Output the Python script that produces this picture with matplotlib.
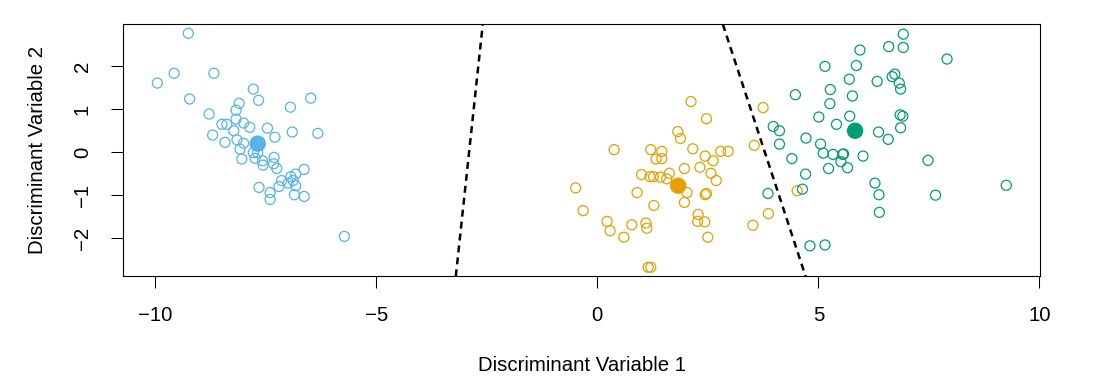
import matplotlib.pyplot as plt
import numpy as np

plt.rcParams['font.family'] = ['Liberation Sans', 'DejaVu Sans']

# class 1 (blue)
blue_x = [-9.25, -9.95, -9.57, -8.67, -9.22, -7.78, -8.10, -7.66, -6.48, -6.94,
          -8.17, -8.78, -8.17, -8.49, -8.38, -8.00, -7.86, -7.46, -8.22, -8.70,
          -6.90, -6.32, -7.29, -8.42, -8.15, -8.00, -8.08, -7.78, -7.68, -7.74,
          -8.04, -7.57, -7.31, -7.56, -7.32, -7.25, -6.63, -6.82, -6.93, -7.14,
          -6.88, -6.99, -7.20, -6.82, -7.65, -7.40, -7.40, -6.85, -6.63, -5.72]
blue_y = [2.77, 1.61, 1.84, 1.84, 1.24, 1.47, 1.14, 1.21, 1.26, 1.05,
          0.98, 0.89, 0.77, 0.65, 0.65, 0.68, 0.58, 0.56, 0.50, 0.40,
          0.47, 0.44, 0.35, 0.23, 0.29, 0.21, 0.07, -0.01, -0.01, -0.14,
          -0.16, -0.20, -0.12, -0.30, -0.27, -0.38, -0.40, -0.51, -0.57, -0.66,
          -0.66, -0.72, -0.80, -0.78, -0.82, -0.94, -1.10, -0.99, -1.03, -1.96]

# class 2 (orange)
orange_x = [2.12, 2.47, 3.75, 1.82, 1.88, 0.38, 1.21, 1.46, 2.16, 2.79,
            2.96, 1.33, 1.46, 2.44, 2.62, 3.55, 1.97, 2.32, 1.00, 1.19,
            1.27, 1.43, 1.63, 1.57, 2.57, 2.69, -0.49, 0.90, 2.03, 2.44,
            2.47, 1.28, 1.97, 3.87, -0.32, 2.28, 0.22, 0.29, 0.78, 1.10,
            1.12, 2.27, 2.43, 0.60, 2.50, 3.52, 1.15, 1.21, 4.52]
orange_y = [1.18, 0.78, 1.04, 0.48, 0.32, 0.06, 0.06, 0.02, 0.08, 0.02,
            0.02, -0.16, -0.15, -0.09, -0.20, 0.16, -0.38, -0.35, -0.52, -0.57,
            -0.57, -0.58, -0.49, -0.62, -0.49, -0.66, -0.83, -0.94, -0.94, -0.99,
            -0.96, -1.24, -1.17, -1.43, -1.36, -1.45, -1.61, -1.83, -1.69, -1.65,
            -1.77, -1.61, -1.62, -1.98, -1.98, -1.70, -2.68, -2.68, -0.90]

# class 3 (green)
green_x = [6.92, 6.59, 6.92, 5.94, 7.91, 5.15, 5.86, 5.70, 6.33, 6.67,
           6.73, 6.83, 6.86, 5.27, 4.48, 5.77, 5.26, 6.85, 6.91, 5.71,
           5.01, 5.41, 6.86, 3.98, 4.12, 6.36, 6.58, 4.72, 4.12, 5.05,
           5.11, 5.33, 5.55, 5.57, 5.51, 5.66, 5.23, 6.01, 4.40, 7.48,
           4.71, 4.64, 6.28, 6.37, 3.86, 7.65, 9.25, 6.38, 4.81, 5.15]
green_y = [2.75, 2.46, 2.44, 2.38, 2.17, 2.00, 2.02, 1.70, 1.65, 1.76,
           1.82, 1.61, 1.47, 1.46, 1.34, 1.31, 1.13, 0.87, 0.84, 0.84,
           0.82, 0.65, 0.57, 0.60, 0.50, 0.47, 0.30, 0.33, 0.19, 0.19,
           -0.02, -0.05, -0.05, -0.04, -0.22, -0.36, -0.38, -0.09, -0.15, -0.19,
           -0.51, -0.86, -0.72, -0.99, -0.96, -1.00, -0.77, -1.40, -2.18, -2.16]

# class means
mean_x = [-7.68, 1.83, 5.83]
mean_y = [0.20, -0.78, 0.50]
colors = ['#56B4E9', '#E69F00', '#009E73']

# decision boundaries, two points each
bound1 = [(-2.59, 2.98), (-3.20, -2.89)]
bound2 = [(2.84, 2.98), (4.65, -2.70)]

fig = plt.figure(figsize=(10.96, 3.88), dpi=100)
ax = fig.add_axes([0.1125, 0.2879, 0.8367, 0.6495])

for xs, ys, c in zip([blue_x, orange_x, green_x], [blue_y, orange_y, green_y], colors):
    ax.scatter(xs, ys, s=52, facecolors='none', edgecolors=c, linewidths=0.9)
ax.scatter(mean_x, mean_y, s=140, c=colors, edgecolors='none', zorder=3)

for b in [bound1, bound2]:
    ax.axline(b[0], b[1], color='black', lw=1.8, dashes=(2.8, 2.0))

ax.set_xlim(-10.72, 10.02)
ax.set_ylim(-2.89, 2.98)
ax.set_xticks([-10, -5, 0, 5, 10])
ax.set_yticks([-2, -1, 0, 1, 2])
ax.tick_params(length=8.6, width=0.75, labelsize=14.7)
ax.tick_params(axis='x', pad=13)
ax.tick_params(axis='y', pad=14, labelrotation=90)
for lab in ax.get_yticklabels():
    lab.set_va('center')
for s in ax.spines.values():
    s.set_linewidth(0.8)

ax.set_xlabel('Discriminant Variable 1', fontsize=14.7, labelpad=22)
ax.set_ylabel('Discriminant Variable 2', fontsize=14.7, labelpad=19)

plt.savefig('out.png')
